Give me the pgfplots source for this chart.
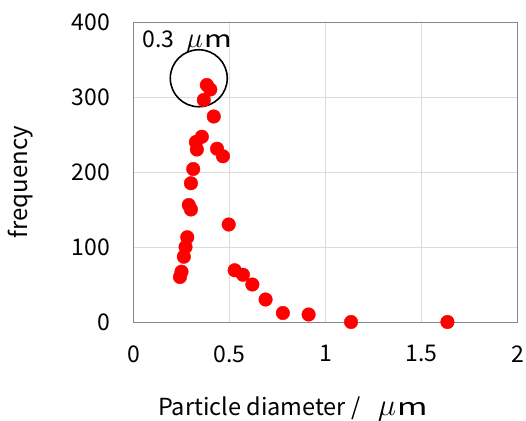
\documentclass[border=0pt]{standalone}
\usepackage{fontspec}
\setmainfont{Noto Sans CJK JP}
\usepackage{graphicx}
\usepackage{pgfplots}
\pgfplotsset{compat=1.18}

\definecolor{gridgray}{RGB}{220,220,220}
\definecolor{framegray}{RGB}{134,134,134}

\begin{document}
\begin{tikzpicture}
% fixed page: 526 x 420 bp, axis box at origin
\path[use as bounding box] (-133.5bp,-98.3bp) rectangle (392.5bp,322bp);
\begin{axis}[
  at={(0,0)}, anchor=south west,
  scale only axis, width=384bp, height=300bp,
  xmin=0, xmax=2, ymin=0, ymax=400,
  xtick={0,0.5,1,1.5,2}, ytick={0,100,200,300,400},
  major tick length=0pt,
  axis line style={framegray, line width=0.8pt},
  grid=major, grid style={gridgray, line width=0.8pt},
  font=\fontsize{23bp}{26bp}\selectfont,
  /pgf/number format/assume math mode=true,
  xticklabel style={yshift=-20bp},
  yticklabel style={xshift=-20bp},
]
\addplot[only marks, mark=*, mark size=6.8bp, color=red,
         mark options={fill=red, draw=red}] coordinates {
 (0.242,60) (0.250,67) (0.262,87) (0.271,100) (0.280,113)
 (0.288,156) (0.299,150) (0.299,185) (0.311,204)
 (0.325,240) (0.330,230) (0.356,247)
 (0.366,296) (0.382,316) (0.400,310) (0.418,274)
 (0.435,231) (0.466,221) (0.496,130) (0.527,69) (0.570,63)
 (0.619,50) (0.688,30) (0.778,12) (0.912,10) (1.133,0) (1.635,0)};
\draw[black, line width=1.6pt] (axis cs:0.340,325) circle[radius=28.5bp];
\node[anchor=base west, inner sep=0pt] at (axis cs:0.047,366)
  {0.3\hspace{0.5em}\scalebox{1.15}{$\mu$}\hspace{0.05em}\scalebox{1.3}[1]{m}};
\end{axis}
\node[anchor=base, inner sep=0pt, font=\fontsize{23.5bp}{27bp}\selectfont]
  at (159.5bp,-93bp)
  {Particle diameter /\hspace{0.75em}\scalebox{1.25}{$\mu$}\hspace{0.05em}\scalebox{1.4}[1]{m}};
\node[rotate=90, inner sep=0pt, font=\fontsize{24bp}{27bp}\selectfont]
  at (-113bp,140bp) {frequency};
\end{tikzpicture}
\end{document}
